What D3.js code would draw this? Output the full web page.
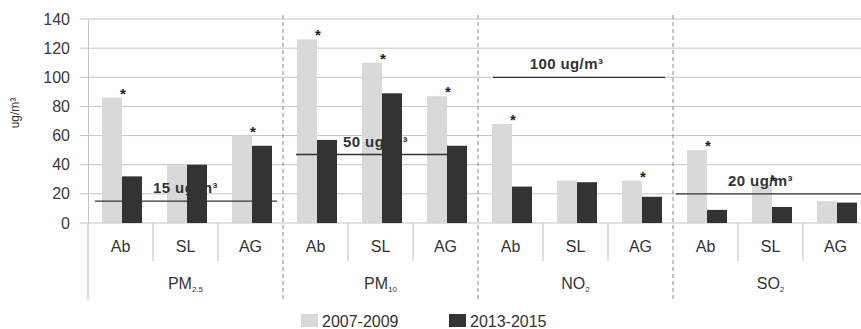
<!DOCTYPE html>
<html>
<head>
<meta charset="utf-8">
<script src="https://cdn.jsdelivr.net/npm/d3@7"></script>
<style>
  body { margin: 0; background: #fff; }
  svg { font-family: "Liberation Sans", Arial, sans-serif; }
</style>
</head>
<body>
<svg id="chart" width="861" height="329"></svg>
<script>
// data
const pollutants = ["PM2.5", "PM10", "NO2", "SO2"];
const sites = ["Ab", "SL", "AG"];
const series = ["2007-2009", "2013-2015"];
const early = [86, 40, 60, 126, 110, 87, 68, 29, 29, 50, 26, 15];
const late = [32, 40, 53, 57, 89, 53, 25, 28, 18, 9, 11, 14];
const starred = [1, 0, 1, 1, 1, 1, 1, 0, 1, 1, 1, 0];
const limitValues = [15, 47, 100, 20];
const limitLabels = ["15 ug/m³", "50 ug/m³", "100 ug/m³", "20 ug/m³"];
const yTicks = [0, 20, 40, 60, 80, 100, 120, 140];

const svg = d3.select("#chart");
const plotLeft = 88, plotRight = 868, plotTop = 19, plotBottom = 223;

const cats = [];
pollutants.forEach(p => sites.forEach(s => cats.push(p + "|" + s)));

const x = d3.scaleBand().domain(cats).range([plotLeft, plotRight]);
const xg = d3.scaleBand().domain(pollutants).range([plotLeft, plotRight]);
const xs = d3.scaleBand().domain(series).range([14, 54]);
const y = d3.scaleLinear().domain([0, 140]).range([plotBottom, plotTop]);

// gridlines
svg.append("g")
    .selectAll("line")
    .data(yTicks)
    .enter().append("line")
    .attr("x1", 80).attr("x2", 861)
    .attr("y1", d => y(d)).attr("y2", d => y(d))
    .attr("stroke", "#c4c4c4").attr("stroke-width", 1);

// y axis
const yAxis = svg.append("g")
    .attr("transform", `translate(${plotLeft},0)`)
    .call(d3.axisLeft(y).tickValues(yTicks).tickSize(0).tickPadding(18));
yAxis.select(".domain").attr("stroke", "#c4c4c4");
yAxis.selectAll("text")
    .attr("font-size", 16)
    .attr("fill", "#3a3a3a")
    .attr("font-family", "Liberation Sans, Arial, sans-serif");

svg.append("text")
    .attr("transform", "translate(19,113) rotate(-90)")
    .attr("text-anchor", "middle")
    .attr("font-size", 12)
    .attr("fill", "#3a3a3a")
    .text("ug/m³");

// bars
const colors = { "2007-2009": "#d9d9d9", "2013-2015": "#333333" };
const barData = [];
cats.forEach((c, i) => {
    barData.push({ cat: c, s: series[0], v: early[i] });
    barData.push({ cat: c, s: series[1], v: late[i] });
});
svg.append("g")
    .selectAll("rect")
    .data(barData)
    .enter().append("rect")
    .attr("x", d => x(d.cat) + xs(d.s))
    .attr("y", d => y(d.v))
    .attr("width", xs.bandwidth())
    .attr("height", d => y(0) - y(d.v))
    .attr("fill", d => colors[d.s]);

// significance stars
svg.append("g")
    .selectAll("text")
    .data(cats.filter((c, i) => starred[i]))
    .enter().append("text")
    .attr("x", c => x(c) + xs(series[1]) + 1)
    .attr("y", c => y(early[cats.indexOf(c)]) + 1)
    .attr("text-anchor", "middle")
    .attr("font-size", 15)
    .attr("font-weight", "bold")
    .attr("fill", "#222")
    .text("*");

// limit lines
const insetL = [7, 13, 15, 3], insetR = [6, 15, 8, -10];
const shiftLabel = [0, -5, -9, -10];
pollutants.forEach((p, i) => {
    const x0 = xg(p) + insetL[i], x1 = xg(p) + xg.bandwidth() - insetR[i];
    svg.append("line")
        .attr("x1", x0).attr("x2", x1)
        .attr("y1", y(limitValues[i])).attr("y2", y(limitValues[i]))
        .attr("stroke", "#333").attr("stroke-width", 1.3);
    svg.append("text")
        .attr("x", xg(p) + xg.bandwidth() / 2 + shiftLabel[i])
        .attr("y", y(limitValues[i]) - 8)
        .attr("text-anchor", "middle")
        .attr("font-size", 15)
        .attr("font-weight", "bold")
        .attr("letter-spacing", 0.4)
        .attr("fill", "#333")
        .text(limitLabels[i]);
});

// category separators
svg.append("g")
    .selectAll("line")
    .data(cats.filter((c, i) => i % 3 !== 0))
    .enter().append("line")
    .attr("x1", c => x(c)).attr("x2", c => x(c))
    .attr("y1", plotBottom).attr("y2", 261)
    .attr("stroke", "#bdbdbd");

// group separators (dashed)
svg.append("g")
    .selectAll("line")
    .data(pollutants.slice(1))
    .enter().append("line")
    .attr("x1", p => xg(p)).attr("x2", p => xg(p))
    .attr("y1", 15).attr("y2", 300)
    .attr("stroke", "#888")
    .attr("stroke-dasharray", "4,3");

svg.append("line")
    .attr("x1", plotLeft).attr("x2", plotLeft)
    .attr("y1", plotBottom).attr("y2", 300)
    .attr("stroke", "#bdbdbd");

// site labels
svg.append("g")
    .selectAll("text")
    .data(cats)
    .enter().append("text")
    .attr("x", c => x(c) + x.bandwidth() / 2)
    .attr("y", 252)
    .attr("text-anchor", "middle")
    .attr("font-size", 16)
    .attr("fill", "#333")
    .text(c => c.split("|")[1]);

// pollutant labels with subscripts
const groupLabel = { "PM2.5": ["PM", "2.5"], "PM10": ["PM", "10"], "NO2": ["NO", "2"], "SO2": ["SO", "2"] };
pollutants.forEach(p => {
    const t = svg.append("text")
        .attr("x", xg(p) + xg.bandwidth() / 2)
        .attr("y", 289)
        .attr("text-anchor", "middle")
        .attr("font-size", 16)
        .attr("fill", "#333");
    t.append("tspan").text(groupLabel[p][0]);
    t.append("tspan").attr("font-size", 8).attr("dy", 3).text(groupLabel[p][1]);
});

// legend
const legendX = [301, 449];
series.forEach((s, i) => {
    svg.append("rect")
        .attr("x", legendX[i]).attr("y", 314)
        .attr("width", 17).attr("height", 13)
        .attr("fill", colors[s]);
    svg.append("text")
        .attr("x", legendX[i] + 21).attr("y", 327)
        .attr("font-size", 16)
        .attr("fill", "#333")
        .text(s);
});
</script>
</body>
</html>
